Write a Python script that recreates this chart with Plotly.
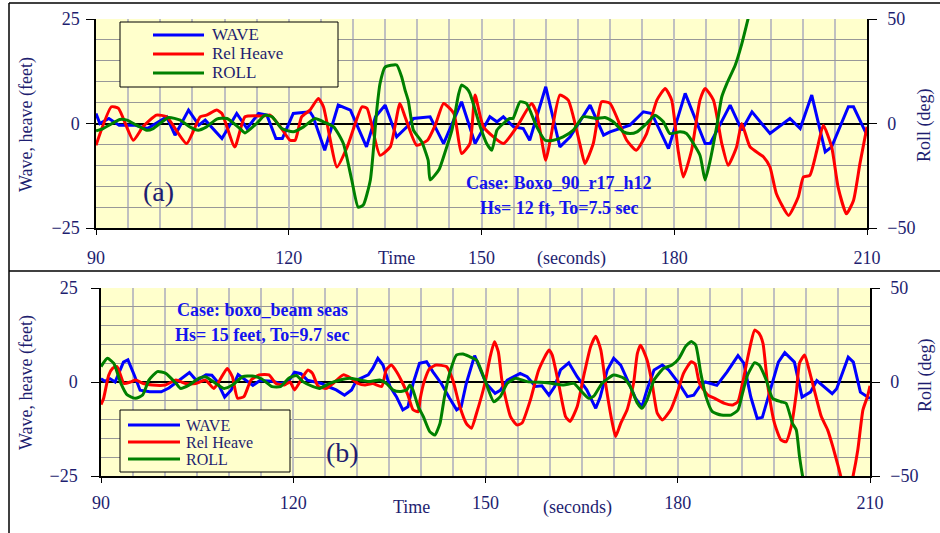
import plotly.graph_objects as go

# ---------------- panel (a): Boxo_90_r17_h12, Hs=12 ft, To=7.5 s ----------------
t_wave_a = [90, 90.6, 92, 93.6, 96, 98, 101, 102.3, 104.4, 106, 107, 109.6, 111.9, 113.5,
            115.3, 116.6, 118, 119, 120.7, 123.3, 123.8, 125.6, 127.7, 129.6, 132.1, 133.5,
            135, 136.8, 138.4, 139.4, 142, 144.1, 146.9, 149, 151.3, 152.4, 153.4, 155,
            156.5, 157.5, 160, 162.2, 163.8, 166.9, 169, 170, 173.1, 175.2, 176.5, 179.1,
            181.7, 184.8, 185.6, 188.7, 190.5, 192.1, 194.9, 198, 199.6, 201.4, 203.5,
            204.5, 207.1, 207.9, 210]
wave_a = [2.4, 0, 1.2, -0.4, -0.4, -1.2, 1.6, -2.8, 3.2, -0.4, 0.8, -3.6, 2.4, -1.2,
          2.4, 2.0, -3.6, -3.6, 2.4, 2.8, 1.6, -6.4, 4.4, 3.2, -5.6, 1.6,
          4.4, -3.2, -0.8, 1.2, 1.6, -4.8, 5.2, -4.8, 1.6, 0.4, 1.6, -0.8,
          -1.2, -4.0, 8.8, -5.6, -3.2, 4.4, -2.8, -2.0, -0.4, 2.8, 2.4, -6.0,
          7.2, -4.8, -4.8, 4.4, -1.6, 2.8, -2.4, 1.2, -1.2, 6.8, -6.8,
          -5.6, 4.0, 4.0, -2.8]

t_heave_a = [90, 92.4, 93.5, 95.8, 97.3, 99.4, 101, 104.1, 106.2, 107.2, 108.8, 109.6,
             111.6, 113.2, 116.1, 117.1, 118.7, 120.2, 121, 122, 123.3, 124.6, 125.4,
             127.5, 129.1, 131.4, 132.2, 134.2, 135.8, 137.3, 138.1, 139.9, 141.6, 142.8,
             144.1, 145.7, 146.9, 148.2, 149, 150.3, 153.4, 155.5, 157.8, 158.6, 160,
             160.7, 162.2, 163.5, 165.3, 166.1, 167.4, 168.7, 170, 172.6, 174.1, 175.7,
             177.3, 178.6, 179.6, 180.6, 181.4, 182.7, 184, 184.8, 186.1, 187.4, 188.4,
             189.7, 190.5, 191.8, 193.9, 194.9, 195.9, 197.8, 199.3, 200.1, 201.1, 202.2,
             203.2, 204.5, 205.5, 206.8, 207.9, 208.9, 210]
heave_a = [-5.2, 4.0, 3.6, -4.0, -0.8, 2.0, 1.6, -4.8, 1.6, 2.0, 3.2, 2.4,
           -5.6, 1.6, 1.8, 2.0, -0.8, -4.0, -4.0, 1.6, 3.2, 6.0, 4.0,
           -10.4, -5.6, 4.0, 3.6, -7.6, -5.6, 4.8, 1.6, -5.2, -4.0, -0.4,
           4.8, 2.4, -7.2, -4.8, 6.8, -0.8, -4.8, -0.8, 4.8, 2.4, -8.8,
           -4.0, 6.8, 5.6, -4.8, -9.6, -4.8, 5.2, 4.8, -4.0, -6.4, -2.4,
           5.6, 8.4, 5.6, -6.4, -12.8, -6.4, 5.6, 8.4, 5.6, -4.8, -10.0,
           -5.6, 0, -5.6, -8.0, -10.4, -16.8, -22.0, -17.6, -12.8, -12.4, -6.4,
           -0.4, -5.6, -15.2, -21.6, -18.4, -9.6, -0.8]

t_roll_a = [90, 91.1, 93.7, 94.8, 96.3, 97.9, 98.9, 101.3, 103.1, 104.6, 105.9, 107.2,
            108.8, 110.4, 112.4, 113.2, 115, 116.3, 117.4, 118.9, 120.7, 122.3, 124.1,
            125.4, 127, 128.5, 129.8, 130.8, 131.6, 132.7, 133.7, 134.2, 135, 136.8,
            137.6, 138.1, 138.6, 139.4, 140.7, 141.7, 142, 143.4, 144.3, 145.4, 146.4,
            146.9, 147.7, 148.2, 149.8, 150.8, 151.6, 152.4, 153.4, 154.4, 154.9, 156,
            157, 158.6, 159.9, 161.2, 162.7, 164.3, 165.8, 167.9, 169.2, 170.5, 172.1,
            173.1, 174.2, 175.7, 177, 178.3, 179.3, 180.9, 181.9, 184, 184.8, 185.6,
            186.6, 187.4, 188.2, 189.5, 190.5, 191.5, 192.5]
roll_a = [-3.5, -2.4, 1.9, 1.6, -0.8, -3.2, -2.4, 2.9, 1.6, -1.6, -3.2, -1.6,
          2.1, 2.4, -2.4, -4.5, 0, 4.0, 3.2, -2.4, -4.0, -1.6, 2.4,
          0.8, -1.6, -9.6, -27, -40, -39, -27, 6.4, 19, 27, 28,
          22, 16, 11, -3.2, -8.8, -17.6, -27, -22, -14, -3.2, 13.6,
          18.4, 16.8, 14.4, -1.6, -9.6, -12.8, -3.2, 0, 2.4, 2.4, 10.4,
          9.6, -1.6, -8.0, -8.0, -6.4, -3.2, 3.2, 2.4, 2.9, 0.8, -4.0,
          -4.8, -4.0, 0, 4.0, 0.8, -4.8, -4.0, -4.8, -15.2, -27, -17.6,
          -1.6, 12.8, 19.2, 28, 38, 50.2, 62]

# ---------------- panel (b): boxo beam seas, Hs=15 ft, To=9.7 s ----------------
t_wave_b = [90, 90.6, 91.4, 92.2, 93.5, 94.2, 95.2, 96.1, 97.6, 99.4, 100.6, 102.2, 103.8,
            104.9, 106.4, 107.3, 108.1, 109.3, 110.3, 111.4, 112.6, 113.7, 114.8, 116.8,
            117.9, 119.2, 120.2, 121.2, 122.2, 124.4, 125.4, 126.7, 128, 129.1, 129.9,
            130.9, 131.7, 132.4, 133.2, 134, 135.1, 136.1, 137.1, 137.9, 138.7, 139.7,
            140.8, 141.8, 143.1, 144.4, 145.5, 146.2, 147, 148.3, 149.1, 150.1, 151.5,
            152.3, 153.4, 155.4, 156.5, 157.8, 158.8, 159.9, 160.8, 161.7, 163, 164.3,
            165.8, 167.2, 167.9, 169, 170, 171.1, 172.4, 173.4, 174.4, 175.2, 176.3,
            177.6, 178.6, 180.2, 181.5, 182.5, 183.5, 184.3, 186.1, 187.7, 189.4, 190.3,
            191.4, 192.4, 193.2, 194.7, 195.7, 196.7, 198.2, 199.4, 200.7, 201.7, 203.3,
            204.1, 204.8, 206.6, 207.4, 208.5, 210]
wave_b = [0.9, 0.2, 0.9, 0, 5.3, 5.9, 1.8, -2.2, -2.6, -2.6, -1.6, 0.4, 2.5,
          0.4, 1.9, 1.8, 0.2, -4.0, -2.2, 2.0, 0.4, -0.9, 0.4, 0.2,
          -0.4, 0, 2.6, 2.2, 0.5, -0.4, -1.2, -2.1, -3.5, -2.1, 0.5,
          1.4, 1.9, 3.6, 6.3, 4.5, -1.2, -3.9, -7.4, -6.6, -0.4, 5.0,
          5.4, 2.7, -0.4, -4.3, -7.4, -6.6, -0.4, 7.0, 3.5, -0.4, -3.0,
          -2.2, 0.5, 2.3, 1.4, -1.2, -1.0, -3.5, -1.2, 3.2, 5.1, 1.4,
          -2.1, -7.0, -4.0, 3.2, 6.3, 4.5, -0.4, -4.3, -6.6, -2.1, 3.2,
          4.5, 3.2, -0.4, -3.9, -3.5, -1.0, 0, -0.9, 2.7, 7.0, 5.0,
          -4.0, -9.7, -9.4, -0.9, 5.3, 7.8, 5.3, -4.0, -2.7, 0.4, -1.8,
          -3.1, -1.8, 6.6, 5.3, -2.7, -4.4]

t_heave_b = [90, 90.4, 91.2, 91.8, 92.5, 93.6, 94.6, 95.4, 96.6, 98, 100, 101.7, 103.2,
             104.8, 106.3, 107.6, 108.5, 109.7, 110.5, 111.3, 112.3, 113.4, 114.7, 116.2,
             117.3, 118.6, 119.5, 120.2, 121.5, 122.3, 123, 123.9, 125.2, 126.2, 127.8,
             129, 130.1, 131.2, 132.4, 133.8, 134.5, 135.3, 136.1, 137.1, 137.9, 138.7,
             139.5, 139.8, 140.5, 141.3, 142.3, 143.9, 144.9, 146, 147, 147.8, 148.6,
             149.9, 150.7, 151.4, 152, 152.6, 153.9, 154.9, 155.7, 157, 158.3, 159.9,
             160.4, 161.4, 162.5, 163.2, 164.3, 165.3, 166.4, 167.2, 168, 168.7, 169.8,
             170.3, 171.1, 172.1, 173.1, 173.7, 174.2, 175.2, 176, 176.8, 177.6, 178.9,
             179.9, 180.9, 182.1, 182.7, 183.4, 184.7, 185.7, 187.3, 188.6, 189.4, 190.1,
             190.9, 191.4, 192, 192.7, 193.3, 194, 195.1, 196.1, 196.9, 197.7, 198.5,
             199, 199.8, 200.5, 201.3, 202.4, 203.4, 204.2, 205, 205.5, 206.4, 207.3,
             208.1, 208.9, 209.6, 210]
heave_b = [-6.0, -4.4, 1.8, 3.6, 4.1, -0.4, 0, 0.5, -0.4, -0.8, -0.8, 0.5, -0.4,
           -0.4, 0.5, -1.7, 0.4, 3.6, 1.4, -4.3, -3.9, 0.5, 1.9, 1.9,
           -0.4, -0.8, 0, -2.1, 1.4, 3.2, 2.3, -1.2, -1.7, -0.4, 1.9,
           1.0, -0.4, -0.8, -0.4, -1.2, 3.2, 4.5, 2.8, -0.4, -3.5, -7.4,
           -7.9, -4.5, 0.5, 3.6, 4.5, 4.1, 0.5, -6.6, -11.0, -12.3, -8.3,
           -0.4, 6.5, 10.7, 8.0, 0, -9.2, -11.4, -10.9, -4.8, 3.2, 8.5,
           7.2, -0.4, -9.2, -10.5, -6.6, 1.4, 9.4, 12.2, 8.5, 0, -11.0,
           -14.5, -11.0, -7.4, -0.4, 7.6, 9.8, 5.9, -0.4, -8.3, -10.1, -7.4,
           -3.0, 2.3, 5.4, 4.8, -0.4, -3.5, -4.3, -5.7, -6.1, -5.2, -0.4,
           6.3, 10.3, 13.8, 12.9, 10.3, -0.4, -11.0, -15.4, -15.9, -11.9, -3.0,
           5.0, 7.2, 3.2, -2.1, -9.2, -12.8, -17.2, -22.2, -25.5, -32, -25.5,
           -18.0, -7.4, -3.9, -1.0]

t_roll_b = [90, 91, 92, 93.1, 94.1, 95.4, 96.5, 97.5, 98.8, 100.1, 101.7, 102.4, 103.8,
            105.3, 106.3, 107.6, 109.2, 110.5, 112.1, 113.6, 115.1, 116.7, 118, 119.3,
            120.5, 121.5, 123.1, 124.1, 125.7, 127.3, 128.8, 130.4, 132, 133.5, 134.5,
            135.6, 136.6, 137.7, 138.2, 138.7, 139.5, 140.3, 141.3, 142.1, 142.9, 143.6,
            144.4, 145.5, 146.5, 147.5, 148.6, 149.9, 151.3, 152.3, 153.4, 154.7, 156.5,
            159.6, 162.2, 163.8, 164.8, 166.1, 166.9, 168.2, 170, 171.6, 172.6, 173.7,
            174.4, 175.2, 176.3, 177.8, 179.1, 180.2, 181.2, 182.1, 182.8, 183.6, 184.4,
            185.4, 186.8, 188.3, 189.4, 190.1, 190.9, 192, 192.7, 193.8, 194.8, 196.1,
            196.9, 197.9, 198.5, 199, 199.5, 200.2]
roll_b = [8.2, 12.6, 9.9, -0.7, -6.9, -8.7, -6.9, 1.1, 5.5, 4.6, -0.7, -3.4, -1.5,
          2.0, 2.8, 0, -3.4, -1.6, 2.8, 3.2, 1.6, -2.5, -2.5, 2.0,
          3.5, 0.2, -2.5, -3.4, -0.7, 1.1, 2.0, 1.1, 0.2, 1.1, -0.7,
          -4.3, -5.1, -4.3, -1.6, -4.5, -13.1, -18.4, -26.4, -28.2, -22.0, -7.8,
          4.6, 14.4, 14.9, 13.5, 11.7, 1.1, -10.5, -7.8, -0.7, 2.0, 0.2,
          -0.4, -1.6, -0.7, -4.3, -8.7, -7.5, -0.7, 3.7, 2.0, -2.5, -11.3,
          -14.0, -9.6, 1.1, 7.3, 9.0, 12.6, 18.8, 21.5, 19.7, 4.6, -7.8,
          -15.8, -17.6, -17.6, -14.9, -6.0, 3.7, 10.3, 9.0, 1.1, -8.7, -10.5,
          -11.3, -22.0, -25.5, -39.7, -50.4, -62]

# ---------------- styling ----------------
FIG_W, FIG_H = 940, 533
NAVY = "#1e1e70"
CASE_BLUE = "#1414ee"
SERIF = "Liberation Serif, Times New Roman, serif"
PLOT_BG = "#FFFFCC"
VGRID = "#c0c0c0"
HGRID = "#989898"
C_WAVE, C_HEAVE, C_ROLL = "#0000FF", "#FF0000", "#008000"


def px(x):
    return x / FIG_W


def py(y):
    return 1 - y / FIG_H


fig = go.Figure()


def add_panel(xa, ya_left, ya_right, tw, w, th, h, tr, r):
    fig.add_trace(go.Scatter(x=tw, y=w, name="WAVE", mode="lines", xaxis=xa, yaxis=ya_left,
                             line=dict(color=C_WAVE, width=3), showlegend=False))
    fig.add_trace(go.Scatter(x=th, y=h, name="Rel Heave", mode="lines", xaxis=xa, yaxis=ya_left,
                             line=dict(color=C_HEAVE, width=3, shape="spline", smoothing=0.5),
                             showlegend=False))
    fig.add_trace(go.Scatter(x=tr, y=r, name="ROLL", mode="lines", xaxis=xa, yaxis=ya_right,
                             line=dict(color=C_ROLL, width=3, shape="spline", smoothing=0.5),
                             showlegend=False))


add_panel("x", "y", "y2", t_wave_a, wave_a, t_heave_a, heave_a, t_roll_a, roll_a)
add_panel("x2", "y3", "y4", t_wave_b, wave_b, t_heave_b, heave_b, t_roll_b, roll_b)

tick_font = dict(family=SERIF, size=18, color=NAVY)


def time_axis(left, right, anchor, standoff):
    return dict(domain=[px(left), px(right)], anchor=anchor, range=[90, 210], automargin=False,
                tickmode="linear", tick0=90, dtick=30,
                ticks="outside", ticklen=5, tickcolor="black", tickwidth=1,
                showline=True, linecolor="black", linewidth=1.5,
                showgrid=True, gridcolor=VGRID, gridwidth=2,
                minor=dict(tick0=90, dtick=5, showgrid=True, gridcolor=VGRID, gridwidth=2),
                zeroline=False, tickfont=tick_font, ticklabelstandoff=standoff)


def feet_axis(top, bottom, anchor, standoff):
    return dict(domain=[py(bottom), py(top)], anchor=anchor, range=[-25, 25], automargin=False,
                tickmode="linear", tick0=-25, dtick=25,
                ticks="outside", ticklen=8, tickcolor="black",
                showline=True, linecolor="black", linewidth=1.5,
                showgrid=True, gridcolor=HGRID, gridwidth=1,
                minor=dict(tick0=-25, dtick=5, showgrid=True, gridcolor=HGRID, gridwidth=1),
                zeroline=True, zerolinecolor="black", zerolinewidth=1.5,
                tickfont=tick_font, ticklabelstandoff=standoff)


def roll_axis(anchor, overlay, standoff):
    return dict(overlaying=overlay, anchor=anchor, side="right", range=[-50, 50], automargin=False,
                tickmode="linear", tick0=-50, dtick=50,
                ticks="outside", ticklen=8, tickcolor="black",
                showline=True, linecolor="black", linewidth=1.5,
                showgrid=False, zeroline=False,
                tickfont=tick_font, ticklabelstandoff=standoff)


fig.update_layout(
    template="none",
    width=FIG_W, height=FIG_H,
    margin=dict(l=0, r=0, t=0, b=0, pad=0),
    paper_bgcolor="white", plot_bgcolor=PLOT_BG,
    showlegend=False,
    xaxis=time_axis(96, 867, "y", 8),
    yaxis=feet_axis(19, 228, "x", 3),
    yaxis2=roll_axis("x", "y", 7),
    xaxis2=time_axis(101, 870, "y3", 5),
    yaxis3=feet_axis(288, 476, "x2", 10),
    yaxis4=roll_axis("x2", "y3", 7),
)

annotations = []
shapes = []


def text(x, y, s, size=18, color=NAVY, bold=False, anchor="center", angle=0):
    annotations.append(dict(
        x=px(x), y=py(y), xref="paper", yref="paper", text=f"<b>{s}</b>" if bold else s,
        showarrow=False, xanchor=anchor, yanchor="middle", textangle=angle,
        font=dict(family=SERIF, size=size, color=color)))


def legend_box(x0, y0, x1, y1, line_x0, line_x1, text_x, rows, size):
    shapes.append(dict(type="rect", xref="paper", yref="paper",
                       x0=px(x0), x1=px(x1), y0=py(y1), y1=py(y0),
                       fillcolor=PLOT_BG, line=dict(color="black", width=1)))
    for (label, color), y in zip([("WAVE", C_WAVE), ("Rel Heave", C_HEAVE), ("ROLL", C_ROLL)], rows):
        shapes.append(dict(type="line", xref="paper", yref="paper",
                           x0=px(line_x0), x1=px(line_x1), y0=py(y), y1=py(y),
                           line=dict(color=color, width=3)))
        text(text_x, y, label, size=size, anchor="left")


# axis titles
text(27, 125, "Wave, heave (feet)", angle=-90)
text(925, 125, "Roll (deg)", angle=-90)
text(27, 383, "Wave, heave (feet)", angle=-90)
text(925, 375, "Roll (deg)", angle=-90)
text(396, 258, "Time")
text(571, 258, "(seconds)")
text(411, 507, "Time")
text(577, 507, "(seconds)")

# panel labels and case notes
text(158, 192, "(a)", size=28)
text(342, 452, "(b)", size=28)
text(559, 183, "Case: Boxo_90_r17_h12", size=18, color=CASE_BLUE, bold=True)
text(559, 208, "Hs= 12 ft, To=7.5 sec", size=18, color=CASE_BLUE, bold=True)
text(262, 310, "Case: boxo_beam seas", size=18, color=CASE_BLUE, bold=True)
text(262, 335, "Hs= 15 feet, To=9.7 sec", size=18, color=CASE_BLUE, bold=True)

# legends
legend_box(120, 22, 338, 87, 153, 204, 210, [35, 54, 73], 17)
legend_box(120, 410, 290, 472, 128, 180, 184, [425, 442, 459], 16)

# frame around the two panels
frame = dict(color="black", width=1.5)
shapes.append(dict(type="line", xref="paper", yref="paper", x0=px(9), x1=1, y0=py(3), y1=py(3), line=frame))
shapes.append(dict(type="line", xref="paper", yref="paper", x0=px(9), x1=1, y0=py(271), y1=py(271), line=frame))
shapes.append(dict(type="line", xref="paper", yref="paper", x0=px(9), x1=px(9), y0=0, y1=py(3), line=frame))

fig.update_layout(annotations=annotations, shapes=shapes)

fig.write_html("out.html")
